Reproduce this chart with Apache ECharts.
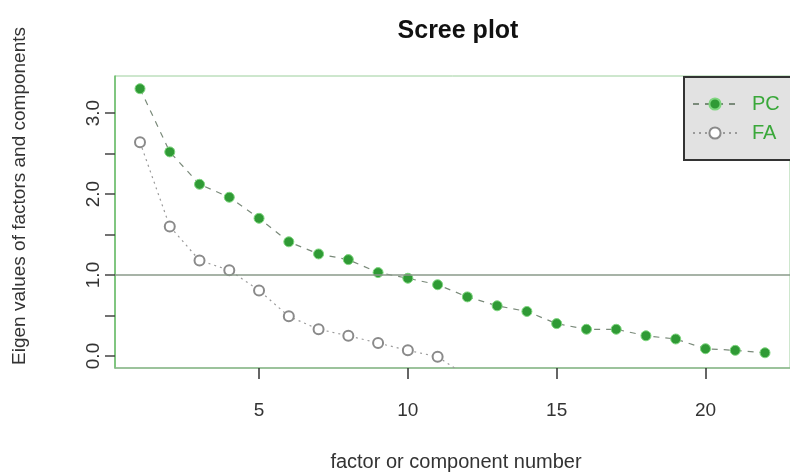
<!DOCTYPE html>
<html>
<head>
<meta charset="utf-8">
<script src="https://cdn.jsdelivr.net/npm/echarts@6/dist/echarts.min.js"></script>
<style>
html,body{margin:0;padding:0;background:#fff;}
#chart{width:790px;height:472px;}
</style>
</head>
<body>
<div id="chart"></div>
<script>
// ---- data ----
var components = [1,2,3,4,5,6,7,8,9,10,11,12,13,14,15,16,17,18,19,20,21,22];
var pcValues = [3.30,2.52,2.12,1.96,1.70,1.41,1.26,1.19,1.03,0.96,0.88,0.73,0.62,0.55,0.40,0.33,0.33,0.25,0.21,0.09,0.07,0.04];
var faComponents = [1,2,3,4,5,6,7,8,9,10,11,12];
var faValues = [2.64,1.60,1.18,1.06,0.81,0.49,0.33,0.25,0.16,0.07,-0.01,-0.25];
var xTicks = [5,10,15,20];
var yTicks = [0,0.5,1,1.5,2,2.5,3];
var yLabels = [0,1,2,3];
var seriesNames = ['PC','FA'];
var titleText = 'Scree plot';
var xName = 'factor or component number';
var yName = 'Eigen values of factors and components';

var font = '"Liberation Sans", Arial, sans-serif';
var chart = echarts.init(document.getElementById('chart'), null, {renderer:'canvas'});

var option = {
  animation: false,
  backgroundColor: '#ffffff',
  grid: {
    left: 115, top: 76, width: 680, height: 292,
    show: true, borderColor: '#9ccf9c', borderWidth: 1, backgroundColor: 'transparent',
    containLabel: false
  },
  xAxis: {
    type: 'value', min: 0.16, max: 22.84,
    axisLine: {show: true, onZero: false, lineStyle: {color: '#8cb88c', width: 1.5}},
    axisTick: {show: true, length: 11, inside: false, customValues: xTicks, lineStyle: {color: '#333', width: 1.5}},
    axisLabel: {show: true, customValues: xTicks, margin: 33, fontSize: 19, fontFamily: font, color: '#333',
      formatter: function(v){return String(v);}},
    splitLine: {show: false}
  },
  yAxis: {
    type: 'value', min: -0.148, max: 3.457,
    axisLine: {show: true, onZero: false, lineStyle: {color: '#66bb66', width: 1.5}},
    axisTick: {show: true, length: 10, customValues: yTicks, lineStyle: {color: '#444', width: 1.5}},
    axisLabel: {show: true, customValues: yLabels, rotate: 90, margin: 12, fontSize: 19, fontFamily: font, color: '#333',
      formatter: function(v){return v.toFixed(1);}},
    splitLine: {show: false}
  },
  legend: {
    show: true, orient: 'vertical', left: 684, top: 77,
    data: seriesNames,
    backgroundColor: '#e2e2e2', borderColor: '#333', borderWidth: 2,
    padding: [17, 30, 17, 8], itemGap: 9, itemWidth: 44, itemHeight: 14,
    textStyle: {fontSize: 20, fontFamily: font, color: '#3aa83a', padding: [0,0,0,10]}
  },
  graphic: [
    {type: 'text', style: {text: titleText, x: 458, y: 31, align: 'center', verticalAlign: 'middle',
      font: 'bold 25px ' + font, fill: '#111'}, silent: true},
    {type: 'text', style: {text: xName, x: 456, y: 462, align: 'center', verticalAlign: 'middle',
      font: '20px ' + font, fill: '#333'}},
    {type: 'text', x: 20, y: 196, rotation: Math.PI/2, style: {text: yName, x: 0, y: 0, align: 'center', verticalAlign: 'middle',
      font: '19px ' + font, fill: '#333'}}
  ],
  series: [
    {
      name: 'PC', type: 'line',
      data: components.map(function(c,i){return [c, pcValues[i]];}),
      symbol: 'circle', symbolSize: 10,
      itemStyle: {color: '#2f9a35', borderColor: '#7fd67f', borderWidth: 1},
      lineStyle: {color: '#7a8a7a', width: 1.2, type: [6,6]},
      clip: true, z: 3,
      markLine: {
        silent: true, symbol: 'none', label: {show: false},
        lineStyle: {color: '#8a9a8a', width: 1.5, type: 'solid'},
        data: [{yAxis: 1}]
      }
    },
    {
      name: 'FA', type: 'line',
      data: faComponents.map(function(c,i){return [c, faValues[i]];}),
      symbol: 'emptyCircle', symbolSize: 10,
      itemStyle: {color: '#8a8a8a', borderColor: '#8a8a8a', borderWidth: 1.2},
      lineStyle: {color: '#9a9a9a', width: 1.2, type: [2,4]},
      clip: true, z: 2
    }
  ]
};
chart.setOption(option);
</script>
</body>
</html>
